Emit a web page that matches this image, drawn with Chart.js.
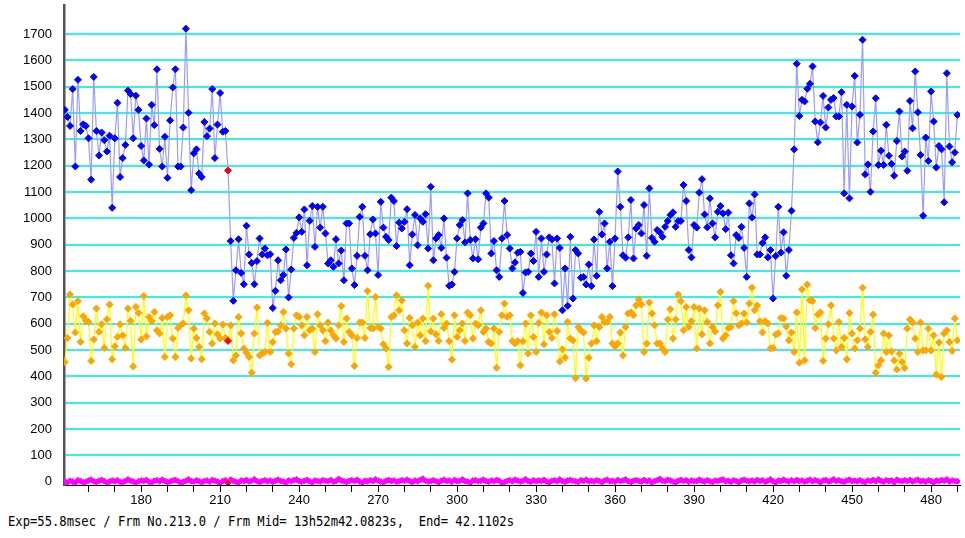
<!DOCTYPE html>
<html>
<head>
<meta charset="utf-8">
<script src="https://cdn.jsdelivr.net/npm/chart.js@4.4.0/dist/chart.umd.min.js"></script>
<style>
    html, body { margin: 0; padding: 0; background: #fff; }
    #wrap { position: relative; width: 965px; height: 538px; overflow: hidden; }
    #chart { position: absolute; left: 0; top: 0; }
    #footer {
        position: absolute; left: 8px; top: 513px;
        font: 14px 'DejaVu Sans Mono', monospace; line-height: 16px;
        color: #000; white-space: pre;
        transform: scaleX(0.87); transform-origin: left top;
    }
</style>
</head>
<body>
<div id="wrap">
    <canvas id="chart" width="965" height="512"></canvas>
    <div id="footer">Exp=55.8msec / Frm No.213.0 / Frm Mid= 13h52m42.0823s,  End= 42.1102s</div>
</div>
<script>
// frame numbers run 151 .. 490, one value per frame
const FIRST_FRAME = 151;
const CURRENT_FRAME = 213;

const yTicks = [0, 100, 200, 300, 400, 500, 600, 700, 800, 900, 1000, 1100, 1200, 1300, 1400, 1500, 1600, 1700];
const xMinorTicks = [160, 170, 180, 190, 200, 210, 220, 230, 240, 250, 260, 270, 280, 290, 300, 310, 320, 330,
    340, 350, 360, 370, 380, 390, 400, 410, 420, 430, 440, 450, 460, 470, 480, 490];
const xLabelTicks = [180, 210, 240, 270, 300, 330, 360, 390, 420, 450, 480];

// blue series
const blueValues = [
    1412, 1385, 1351, 1491, 1197, 1526, 1332, 1357, 1351, 1304, 1147, 1537, 1332, 1239, 1326, 1297, 1254, 1314, 1040, 1304,
    1439, 1157, 1229, 1279, 1485, 1472, 1304, 1466, 1412, 1275, 1220, 1379, 1204, 1431, 1354, 1566, 1264, 1197, 1310, 1154,
    1372, 1497, 1566, 1197, 1197, 1345, 1720, 1401, 1107, 1247, 1262, 1170, 1157, 1366, 1312, 1341, 1491, 1229, 1356, 1476,
    1329, 1332, 1182,
    914, 687, 803, 921, 793, 750, 972, 863, 831, 750, 838, 924, 863, 886, 860, 864, 660, 725, 841, 765,
    785, 882, 700, 806, 926, 945, 1004, 949, 1034, 822, 991, 1047, 892, 1044, 965, 1044, 943, 829, 841, 816,
    921, 829, 878, 765, 981,
    981, 810, 747, 858,
    1006, 1044, 858, 803, 940, 996, 943, 785, 1063, 965, 930, 918, 1079, 1066, 895, 984, 962, 987, 1035, 822,
    939, 1013, 898, 1000, 987, 1016, 886, 1120, 841, 924, 937, 888, 1000, 851, 744, 749, 797, 924, 975, 994,
    909, 1095, 918, 848, 921, 845, 965, 981, 1095, 1079, 867, 914, 803, 778, 924, 1066, 937, 886,
    810, 833, 870, 873, 717, 795, 797, 867, 838, 949, 778, 924, 797, 863, 928, 920, 753, 924, 888, 651,
    810, 668, 930, 696, 880, 867, 775, 778, 749, 825, 743, 920, 782, 1025, 939, 981, 810, 911, 743, 924,
    1178, 1044, 860, 851, 928, 1070, 848, 962, 975, 943, 1051, 858, 1114, 926, 911, 956,
    947, 930, 968, 990, 1013, 1023, 968, 990, 990, 1127, 1066, 880, 852, 975, 965, 1098, 1149, 1015, 966, 1076,
    981, 928, 1025, 1047, 1019, 959, 1022, 860, 829, 937, 926, 968, 888, 778, 1057, 1003, 1091, 863, 863, 907,
    928, 852, 880, 696, 857, 1044, 870, 947, 782, 880, 1029,
    1262, 1587, 1389, 1450, 1444, 1492, 1511, 1577, 1368, 1289, 1364, 1465, 1345, 1421, 1450, 1457, 1387, 1387, 1479, 1095,
    1431, 1076, 1425, 1541, 1288, 1393, 1678, 1167, 1205, 1101, 1330, 1456,
    1203, 1257, 1203, 1355, 1238, 1207, 1162, 1294, 1406, 1235, 1254, 1181, 1446, 1342, 1558, 1403, 1241, 1010, 1307, 1218,
    1482, 1368, 1193, 1275, 1262, 1061, 1551, 1273, 1213, 1250, 1393
];

// yellow / orange series
const yellowValues = [
    455, 546, 711, 673, 567, 686, 531, 629, 613, 607, 459, 540, 658, 569, 598, 508, 617, 673, 465, 514,
    550, 598, 556, 508, 658, 611, 438, 664, 641, 540, 705, 552, 626, 610, 645, 575, 563, 622, 474, 626,
    632, 544, 474, 584, 594, 601, 708, 651, 468, 582, 546, 512, 465, 639, 620, 569, 525, 601,
    560, 544, 597, 546, 535,
    594, 461, 480, 626, 563, 506, 490, 474, 414, 563, 662, 480, 487, 493, 603, 493, 531, 569, 571, 594,
    645, 582, 487, 446, 582, 632, 626, 594, 556, 626, 575, 582, 493, 636, 594, 575, 534, 605, 575, 556,
    544, 594, 667, 531, 620, 569, 556, 440, 546, 605, 605,
    546, 724, 584, 582, 702, 588, 582, 522, 506, 436, 626, 632, 708, 651, 689, 575, 525, 622, 594, 512,
    605, 556, 620, 534, 744, 571, 620, 560, 535, 636, 584, 601, 534, 464, 632, 550, 575, 601, 535, 643,
    632, 544, 601, 594, 651, 569, 582, 531, 525, 582, 433, 569, 632, 677, 626, 632,
    534, 525, 534, 442, 534, 601, 487, 632, 550, 493, 603, 643, 522, 632, 569, 546, 636, 573, 457, 503,
    471, 607, 544, 537, 394, 588, 575, 567, 392, 471, 525, 594, 534, 588, 626, 607, 607, 626, 525, 514,
    525, 567, 480, 588, 639, 643, 632, 670, 693, 673, 493, 525, 681, 639, 594, 525,
    525, 506, 493, 616, 655, 544, 616, 711, 686, 575, 664, 588, 610, 664, 506, 658, 560, 651, 607, 525,
    588, 571, 670, 721, 544, 556, 584, 588, 686, 640, 594, 601, 639, 605, 677, 737, 651, 670, 610, 567,
    610, 601, 506, 508, 559, 563, 622, 620, 590, 537, 567, 493, 643, 452, 731, 461, 749, 689,
    686, 584, 635, 643, 459, 544, 598, 670, 544, 499, 607, 512, 546, 465, 641, 563, 506, 537, 582, 737,
    541, 512, 569, 635, 414, 442, 461, 563, 493, 556, 495, 461, 426, 487, 455, 432, 582, 616, 605, 544,
    493, 605, 499, 499, 582, 499, 556, 407, 529, 398, 563, 575, 531, 497, 620, 537
];

// magenta series, sits on zero
const magentaValues = [
    2, -3, 4, 1, -4, 6, 3, -2, 0, 5, 8, 2, -1, 4, 7, 3, -3, 1, 5, 2,
    6, 0, -2, 3, 9, 4, 1, -3, 2, 5, 3, 7, 0, -2, 4, 6, 2, 8, 3, -1,
    1, 5, 7, 2, -3, 0, 4, 9, 3, 1, 6, 2, -2, 3, 5, 0, 7, 4, 1, -4,
    3, 6, -4, 8, 4, 0, -2, 5, 3, 7, 1, 4, 10, 2, -1, 3, 6, 2, 5, 0,
    4, 8, 3, 1, -3, 5, 2, 6, 9, 3, 0, 4, 7, 2, -2, 5, 3, 1, 6, 4,
    2, 7, 0, 3, 11, 5, 2, -1, 4, 6, 3, 8, 1, -3, 4, 2, 6, 3, 9, 5,
    1, -2, 4, 7, 3, 5, 0, 2, 6, 4, 8, 3, -1, 5, 2, 7, 12, 4, 1, 3,
    6, 2, -2, 4, 8, 3, 5, 0, 7, 2, 4, 9, 3, 1, -3, 5, 6, 2, 4, 8,
    3, 0, 5, 2, 7, 4, -4, -1, 3, 6, 2, 8, 5, 1, 4, 10, 3, 0, 6, 2,
    5, 3, 7, 1, -2, 4, 6, 2, 9, 3, 0, 5, 7, 4, 2, -1, 6, 3, 8, 2,
    4, 1, 6, 3, -2, 5, 8, 2, 4, 0, 7, 3, 5, 9, 2, -1, 4, 6, 3, 1,
    7, 2, 5, -3, 3, 6, 11, 4, 2, 8, 5, 1, -2, 4, 7, 3, 6, 0, 5, 2,
    3, 8, 4, 1, 6, 2, -1, 5, 3, 7, 9, 2, 4, 0, 6, 3, -2, 5, 8, 4,
    2, 5, 1, 7, 3, 6, 0, 4, 9, 2, -3, 5, 3, 8, 4, 1, 6, 2, 7, 3,
    5, 0, 4, 8, 2, 6, 3, -2, 5, 7, 1, 4, 10, 3, 6, 2, 0, 5, 8, 3,
    4, 2, 6, 1, -1, 5, 3, 7, 2, 9, 4, 0, 6, 3, 5, -2, 8, 4, 2, 6,
    3, 7, 1, 5, 8, 2, 4, 0, 6, 3, -3, 5, 2, 7, 4, 9, 1, 5, 3, 2
];

function toPoints(values) {
    return values.map((v, i) => ({ x: FIRST_FRAME + i, y: v }));
}

// current frame is marked red on every series
function markColor(color) {
    return ctx => (ctx.raw && ctx.raw.x === CURRENT_FRAME) ? '#FF0000' : color;
}

function series(values, lineColor, pointColor, radius, lineWidth) {
    return {
        data: toPoints(values),
        borderColor: lineColor,
        borderWidth: lineWidth,
        pointStyle: 'rectRot',
        pointRadius: radius,
        pointBackgroundColor: markColor(pointColor),
        pointBorderColor: markColor(pointColor),
        pointBorderWidth: 1,
        tension: 0
    };
}

const tickFont = { family: "'Liberation Sans', Arial, sans-serif", size: 13 };

new Chart(document.getElementById('chart').getContext('2d'), {
    type: 'line',
    data: {
        datasets: [
            series(blueValues, '#9C9CFF', '#0000FF', 3.5, 1.2),
            series(yellowValues, '#FFFF00', '#FFA500', 3.5, 1.2),
            series(magentaValues, '#FF00FF', '#FF00FF', 3, 2.5)
        ]
    },
    options: {
        responsive: false,
        animation: false,
        devicePixelRatio: 1,
        layout: { padding: 0 },
        plugins: {
            legend: { display: false },
            tooltip: { enabled: false }
        },
        scales: {
            x: {
                type: 'linear',
                min: 150.7,
                max: 491,
                afterBuildTicks: axis => { axis.ticks = xMinorTicks.map(v => ({ value: v })); },
                afterFit: axis => {
                    axis.height = 27;
                    axis.paddingLeft = 0;
                    axis.paddingRight = 0;
                },
                ticks: {
                    autoSkip: false,
                    maxRotation: 0,
                    padding: 1,
                    color: '#000',
                    font: tickFont,
                    callback: v => xLabelTicks.includes(v) ? String(v) : ''
                },
                grid: {
                    drawOnChartArea: false,
                    drawTicks: true,
                    tickLength: 7,
                    color: '#000',
                    lineWidth: 1
                },
                border: { display: true, color: '#000', width: 1 }
            },
            y: {
                min: -12,
                max: 1810,
                afterBuildTicks: axis => { axis.ticks = yTicks.map(v => ({ value: v })); },
                afterFit: axis => {
                    axis.width = 64;
                    axis.paddingTop = 0;
                    axis.paddingBottom = 0;
                },
                ticks: {
                    padding: 12,
                    color: '#000',
                    font: tickFont,
                    callback: v => String(v)
                },
                grid: {
                    drawTicks: false,
                    color: '#33F0F0',
                    lineWidth: 2
                },
                border: { display: true, color: '#555', width: 2.5 }
            }
        }
    }
});
</script>
</body>
</html>
